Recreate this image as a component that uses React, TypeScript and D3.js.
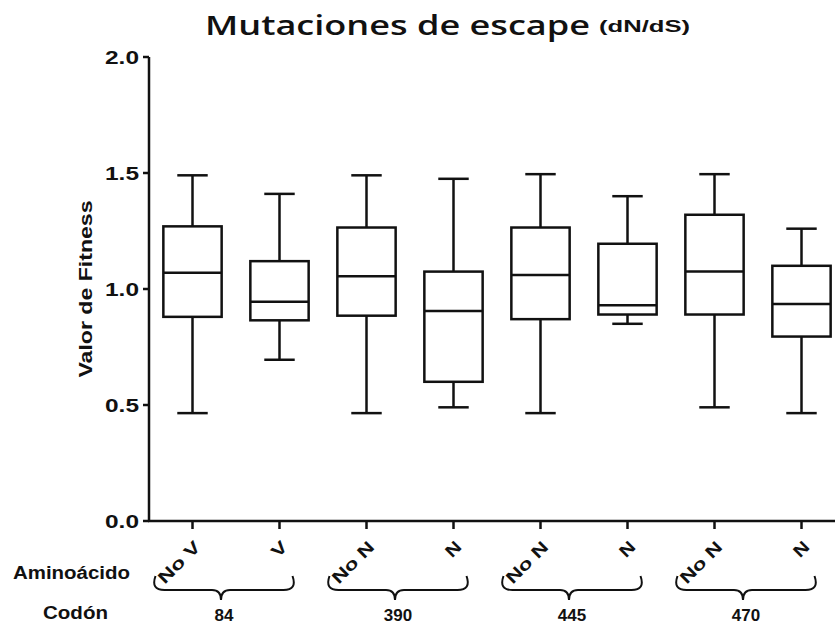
import * as d3 from 'd3';

// Box plot values
const categories = ['No V', 'V', 'No N', 'N', 'No N', 'N', 'No N', 'N'];
const codons = ['84', '390', '445', '470'];
const whiskerHigh = [1.49, 1.41, 1.49, 1.475, 1.495, 1.4, 1.495, 1.26];
const q3 = [1.27, 1.12, 1.265, 1.075, 1.265, 1.195, 1.32, 1.1];
const median = [1.07, 0.945, 1.055, 0.905, 1.06, 0.93, 1.075, 0.935];
const q1 = [0.88, 0.865, 0.885, 0.6, 0.87, 0.89, 0.89, 0.795];
const whiskerLow = [0.465, 0.695, 0.465, 0.49, 0.465, 0.85, 0.49, 0.465];
const yTicks = [0, 0.5, 1.0, 1.5, 2.0];

const W = 835;
const H = 629;
const ink = '#111';

export default function App() {
  const idx = categories.map((_, i) => i);
  const x = d3.scaleBand<number>().domain(idx).range([149, 845]).padding(0);
  const y = d3.scaleLinear().domain([0, 2]).range([521, 57]);
  const cx = (i: number) => (x(i) as number) + x.bandwidth() / 2;
  const boxW = x.bandwidth() * 0.67;
  const capW = x.bandwidth() * 0.35;

  // curly brace under each codon pair
  const brace = (x0: number, x1: number, xt: number) => {
    const p = d3.path();
    p.moveTo(x0 + 3, 576);
    p.quadraticCurveTo(x0 - 2, 590, x0 + 12, 590);
    p.lineTo(xt - 9, 590);
    p.quadraticCurveTo(xt, 590, xt, 600);
    p.quadraticCurveTo(xt, 590, xt + 9, 590);
    p.lineTo(x1 - 12, 590);
    p.quadraticCurveTo(x1 + 2, 590, x1 - 3, 576);
    return p.toString();
  };

  return (
    <svg width={W} height={H} style={{ position: 'absolute', left: 0, top: 0, background: '#fff' }}
      fontFamily="'Liberation Sans', Arial, sans-serif">
      {/* title */}
      <text x={205} y={35} fontFamily="'Open Sans', sans-serif" fontWeight={600} fontSize={27}
        textLength={385} lengthAdjust="spacingAndGlyphs" fill={ink}>Mutaciones de escape</text>
      <text x={599} y={32} fontWeight="bold" fontSize={17} textLength={91}
        lengthAdjust="spacingAndGlyphs" fill={ink}>(dN/dS)</text>

      {/* y axis */}
      <line x1={149} x2={149} y1={y(2)} y2={y(0) + 1} stroke={ink} strokeWidth={2.5} />
      {yTicks.map(t => (
        <g key={t}>
          <line x1={143} x2={149} y1={y(t)} y2={y(t)} stroke={ink} strokeWidth={2.5} />
          <text x={139} y={y(t)} dy="0.36em" textAnchor="end" fontWeight="bold" fontSize={19}
            textLength={34} lengthAdjust="spacingAndGlyphs" fill={ink}>{t.toFixed(1)}</text>
        </g>
      ))}
      <text transform={`translate(92,${y(1)}) rotate(-90)`} textAnchor="middle" fontWeight="bold"
        fontSize={18} textLength={177} lengthAdjust="spacingAndGlyphs" fill={ink}>Valor de Fitness</text>

      {/* x axis */}
      <line x1={148} x2={W} y1={y(0)} y2={y(0)} stroke={ink} strokeWidth={2.5} />
      {idx.map(i => (
        <g key={i}>
          <line x1={cx(i)} x2={cx(i)} y1={y(0)} y2={y(0) + 8} stroke={ink} strokeWidth={2.5} />
          <text transform={`translate(${cx(i) + 9},548) rotate(-45)`} textAnchor="end" fontWeight="bold"
            fontSize={17} textLength={categories[i].length > 1 ? 52 : 15} lengthAdjust="spacingAndGlyphs"
            fill={ink}>{categories[i]}</text>
        </g>
      ))}

      {/* boxes */}
      {idx.map(i => (
        <g key={'b' + i} stroke={ink} strokeWidth={2.5} fill="none">
          <line x1={cx(i)} x2={cx(i)} y1={y(whiskerHigh[i])} y2={y(q3[i])} />
          <line x1={cx(i)} x2={cx(i)} y1={y(q1[i])} y2={y(whiskerLow[i])} />
          <line x1={cx(i) - capW / 2} x2={cx(i) + capW / 2} y1={y(whiskerHigh[i])} y2={y(whiskerHigh[i])} />
          <line x1={cx(i) - capW / 2} x2={cx(i) + capW / 2} y1={y(whiskerLow[i])} y2={y(whiskerLow[i])} />
          <rect x={cx(i) - boxW / 2} y={y(q3[i])} width={boxW} height={y(q1[i]) - y(q3[i])} />
          <line x1={cx(i) - boxW / 2} x2={cx(i) + boxW / 2} y1={y(median[i])} y2={y(median[i])} />
        </g>
      ))}

      {/* grouping labels */}
      <text x={13} y={573} dy="0.36em" fontWeight="bold" fontSize={18} textLength={117}
        lengthAdjust="spacingAndGlyphs" fill={ink}>Aminoácido</text>
      <text x={43} y={613} dy="0.36em" fontWeight="bold" fontSize={18} textLength={65}
        lengthAdjust="spacingAndGlyphs" fill={ink}>Codón</text>
      {codons.map((c, g) => {
        const x0 = cx(g * 2) - 40;
        const x1 = cx(g * 2 + 1) + 16;
        const xt = (x0 + x1) / 2 - 3;
        return (
          <g key={c}>
            <path d={brace(x0, x1, xt)} fill="none" stroke={ink} strokeWidth={2} />
            <text x={xt + 3} y={615} dy="0.36em" textAnchor="middle" fontWeight="bold" fontSize={17}
              fill={ink}>{c}</text>
          </g>
        );
      })}
    </svg>
  );
}
